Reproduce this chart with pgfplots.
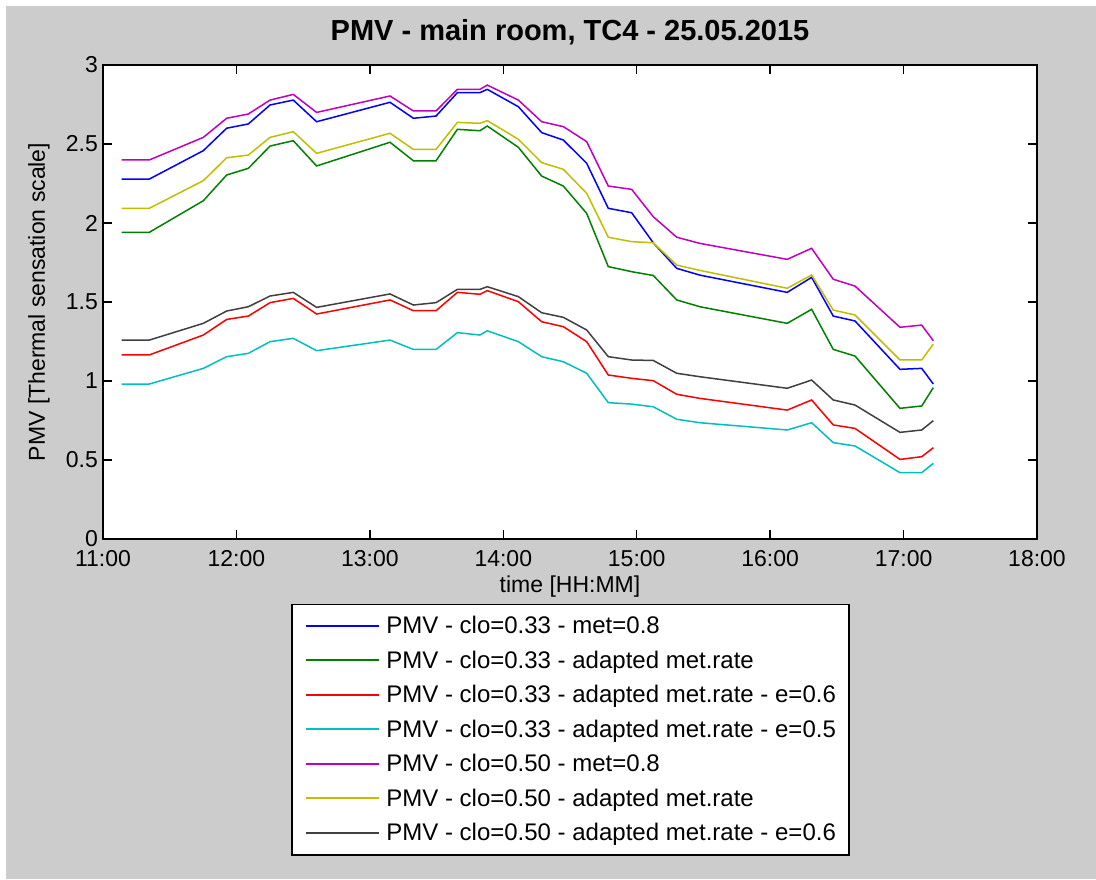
\documentclass[border=0pt]{standalone}
\usepackage{pgfplots}
\usepackage{pgfplotstable}
\pgfplotsset{compat=1.18}
\usepackage{fontspec}
\setmainfont{Liberation Sans}
\definecolor{figgray}{RGB}{204,204,204}
\definecolor{mblue}{RGB}{0,0,255}
\definecolor{mgreen}{RGB}{0,128,0}
\definecolor{mred}{RGB}{255,0,0}
\definecolor{mcyan}{RGB}{0,191,191}
\definecolor{mmagenta}{RGB}{191,0,191}
\definecolor{myellow}{RGB}{191,191,0}
\definecolor{mgray}{RGB}{64,64,64}
\pgfplotstableread{
t      blue  green red   cyan  mag   yel   gray
11.140 2.278 1.941 1.165 0.981 2.399 2.093 1.259
11.347 2.278 1.941 1.165 0.981 2.399 2.093 1.259
11.752 2.458 2.141 1.291 1.080 2.542 2.268 1.365
11.927 2.600 2.304 1.390 1.154 2.663 2.413 1.443
12.089 2.627 2.346 1.411 1.175 2.690 2.430 1.470
12.252 2.747 2.487 1.496 1.249 2.778 2.542 1.538
12.426 2.778 2.521 1.523 1.270 2.814 2.578 1.561
12.601 2.641 2.361 1.424 1.192 2.700 2.441 1.466
13.151 2.764 2.511 1.513 1.259 2.804 2.568 1.551
13.326 2.663 2.394 1.445 1.200 2.709 2.466 1.481
13.496 2.677 2.394 1.445 1.200 2.709 2.466 1.496
13.656 2.825 2.593 1.561 1.306 2.846 2.637 1.580
13.825 2.825 2.584 1.549 1.291 2.846 2.631 1.580
13.880 2.846 2.614 1.572 1.318 2.873 2.648 1.597
14.113 2.736 2.479 1.502 1.249 2.778 2.530 1.534
14.288 2.572 2.297 1.375 1.154 2.641 2.382 1.432
14.450 2.525 2.234 1.344 1.122 2.610 2.340 1.403
14.625 2.378 2.061 1.249 1.049 2.515 2.188 1.323
14.787 2.093 1.724 1.038 0.863 2.234 1.910 1.154
14.962 2.065 1.692 1.017 0.854 2.213 1.882 1.133
15.124 1.875 1.668 1.002 0.837 2.040 1.875 1.130
15.300 1.713 1.513 0.916 0.758 1.910 1.734 1.049
15.474 1.670 1.470 0.890 0.736 1.871 1.700 1.027
16.128 1.561 1.365 0.816 0.690 1.770 1.587 0.954
16.311 1.656 1.454 0.880 0.736 1.840 1.671 1.006
16.473 1.411 1.200 0.722 0.610 1.644 1.449 0.880
16.636 1.380 1.158 0.700 0.589 1.601 1.418 0.848
16.973 1.074 0.827 0.504 0.420 1.340 1.133 0.675
17.136 1.080 0.842 0.521 0.420 1.354 1.133 0.690
17.223 0.981 0.958 0.578 0.479 1.255 1.234 0.749
}\pmvdata
\begin{document}
\begin{tikzpicture}
\fill[white] (0pt,0pt) rectangle (1096pt,-879pt);
\fill[figgray] (6pt,-6pt) rectangle (1096pt,-879pt);
\begin{axis}[
  at={(103pt,-539pt)}, anchor=south west,
  scale only axis, width=934pt, height=474pt,
  xmin=11, xmax=18, ymin=0, ymax=3,
  xtick={11,12,13,14,15,16,17,18},
  xticklabels={11:00,12:00,13:00,14:00,15:00,16:00,17:00,18:00},
  ytick={0,0.5,1,1.5,2,2.5,3},
  yticklabels={0,0.5,1,1.5,2,2.5,3},
  tick align=inside, major tick length=9pt,
  every tick/.style={black, line width=1.3pt},
  axis line style={line width=1.5pt},
  axis background/.style={fill=white},
  /pgf/number format/assume math mode=true,
  xticklabel style={font=\fontsize{23}{27}\selectfont, anchor=base, inner sep=0pt, yshift=-27pt},
  yticklabel style={font=\fontsize{23}{27}\selectfont, anchor=east, inner sep=0pt, xshift=-5pt},
  title={PMV - main room, TC4 - 25.05.2015},
  title style={font=\bfseries\fontsize{29}{34}\selectfont, at={(0.5,1)}, anchor=base, yshift=19pt, inner sep=0pt},
  xlabel={time [HH:MM]},
  xlabel style={font=\fontsize{23}{27}\selectfont, at={(0.5,0)}, anchor=base, yshift=-53pt, inner sep=0pt},
  ylabel={PMV [Thermal sensation scale]},
  ylabel style={font=\fontsize{23}{27}\selectfont, at={(0,0.5)}, anchor=base, yshift=58pt, inner sep=0pt},
  legend cell align=left,
  legend image code/.code={\draw[#1, line width=1.6pt] (0pt,0.5pt) -- (73pt,0.5pt);},
  legend style={at={(0.2013,-0.1371)}, anchor=north west,
    font=\fontsize{24}{28}\selectfont, draw=black, line width=1.5pt, fill=white,
    inner xsep=13pt, inner ysep=8pt, column sep=7pt, row sep=7.5pt,
    nodes={inner sep=0pt, text height=21pt, text depth=6pt}},
  every axis plot/.append style={line width=1.5pt},
]
\addplot[mblue] table[x=t,y=blue] {\pmvdata};
\addlegendentry{PMV - clo=0.33 - met=0.8}
\addplot[mgreen] table[x=t,y=green] {\pmvdata};
\addlegendentry{PMV - clo=0.33 - adapted met.rate}
\addplot[mred] table[x=t,y=red] {\pmvdata};
\addlegendentry{PMV - clo=0.33 - adapted met.rate - e=0.6}
\addplot[mcyan] table[x=t,y=cyan] {\pmvdata};
\addlegendentry{PMV - clo=0.33 - adapted met.rate - e=0.5}
\addplot[mmagenta] table[x=t,y=mag] {\pmvdata};
\addlegendentry{PMV - clo=0.50 - met=0.8}
\addplot[myellow] table[x=t,y=yel] {\pmvdata};
\addlegendentry{PMV - clo=0.50 - adapted met.rate}
\addplot[mgray] table[x=t,y=gray] {\pmvdata};
\addlegendentry{PMV - clo=0.50 - adapted met.rate - e=0.6}
\end{axis}
\end{tikzpicture}
\end{document}
